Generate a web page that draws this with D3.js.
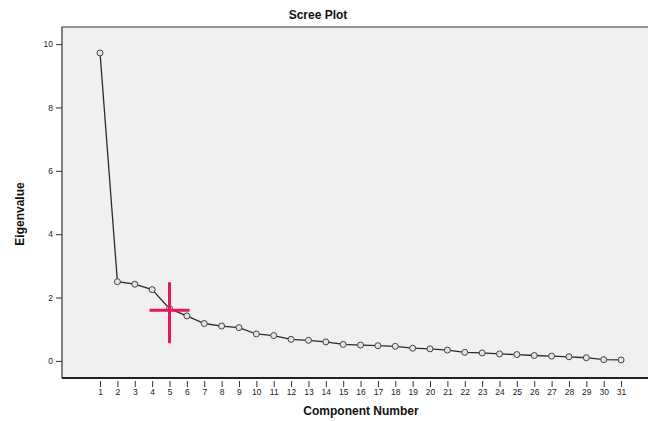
<!DOCTYPE html>
<html lang="en">
<head>
    <meta charset="utf-8">
    <title>Scree Plot</title>
    <style>
        body { margin: 0; background: #fff; }
        svg { display: block; font-family: "Liberation Sans", Arial, sans-serif; }
        .tick text { font-size: 8.5px; fill: #222; }
        .tick line { stroke: #333; }
        .line { fill: none; stroke: #2a2a2a; stroke-width: 1.3px; }
        .dot { fill: #e4e4e4; stroke: #444; stroke-width: 1px; }
        .title { font-size: 12px; font-weight: bold; fill: #111; }
    </style>
</head>
<body>
<script src="https://d3js.org/d3.v7.min.js"></script>
<script>

    // components and their eigenvalues
    var components = d3.range(1, 32);
    var eigenvalues = [9.72, 2.5, 2.42, 2.25, 1.65, 1.42, 1.18, 1.1, 1.05, 0.85,
        0.8, 0.68, 0.65, 0.6, 0.52, 0.5, 0.48, 0.46, 0.4, 0.38,
        0.34, 0.27, 0.25, 0.22, 0.2, 0.17, 0.15, 0.13, 0.1, 0.04, 0.03];
    var yTicks = [0, 2, 4, 6, 8, 10];

    // the elbow marker
    var elbow = {component: 5, value: 1.6};

    var width = 648, height = 421;
    var margin = {top: 27, right: 0, bottom: 43, left: 62};

    var svg = d3.select("body").append("svg")
        .attr("width", width)
        .attr("height", height);

    var x = d3.scaleLinear()
        .domain([-1.19, 32.55])
        .range([margin.left, width - margin.right]);

    var y = d3.scaleLinear()
        .domain([-0.54, 10.54])
        .range([height - margin.bottom, margin.top]);

    // plot background
    svg.append("rect")
        .attr("x", margin.left)
        .attr("y", margin.top)
        .attr("width", width - margin.left - margin.right + 2)
        .attr("height", height - margin.top - margin.bottom)
        .attr("fill", "#f0f0f0");

    // frame
    svg.append("path")
        .attr("d", "M" + (width + 2) + "," + margin.top + "H" + margin.left +
            "V" + (height - margin.bottom) + "H" + (width + 2))
        .attr("fill", "none")
        .attr("stroke", "#333")
        .attr("stroke-width", 1.2);

    svg.append("line")
        .attr("x1", margin.left).attr("x2", width)
        .attr("y1", height - margin.bottom).attr("y2", height - margin.bottom)
        .attr("stroke", "#222").attr("stroke-width", 2);

    // axes
    svg.append("g")
        .attr("transform", "translate(" + margin.left + ",0)")
        .call(d3.axisLeft(y).tickValues(yTicks).tickSize(6).tickPadding(3))
        .call(function(g) { g.select(".domain").remove(); });

    svg.append("g")
        .attr("transform", "translate(0," + (height - margin.bottom + 3) + ")")
        .call(d3.axisBottom(x).tickValues(components).tickSize(6).tickPadding(2))
        .call(function(g) { g.select(".domain").remove(); });

    // line + points
    var line = d3.line()
        .x(function(d, i) { return x(components[i]); })
        .y(function(d) { return y(d); });

    svg.append("path")
        .datum(eigenvalues)
        .attr("class", "line")
        .attr("d", line);

    svg.selectAll("circle.dot")
        .data(eigenvalues)
        .enter().append("circle")
        .attr("class", "dot")
        .attr("cx", function(d, i) { return x(components[i]); })
        .attr("cy", function(d) { return y(d); })
        .attr("r", 3);

    // red cross on the elbow
    var cx = x(elbow.component), cy = y(elbow.value);
    svg.append("line")
        .attr("x1", cx).attr("x2", cx)
        .attr("y1", cy - 28).attr("y2", cy + 33)
        .attr("stroke", "#e5185a").attr("stroke-width", 3);
    svg.append("line")
        .attr("x1", cx - 20).attr("x2", cx + 20)
        .attr("y1", cy).attr("y2", cy)
        .attr("stroke", "#e5185a").attr("stroke-width", 3);

    // titles
    svg.append("text")
        .attr("class", "title")
        .attr("x", 318).attr("y", 19)
        .attr("text-anchor", "middle")
        .text("Scree Plot");

    svg.append("text")
        .attr("class", "title")
        .attr("x", 361).attr("y", 415)
        .attr("text-anchor", "middle")
        .text("Component Number");

    svg.append("text")
        .attr("class", "title")
        .attr("transform", "translate(24,214) rotate(-90)")
        .attr("text-anchor", "middle")
        .text("Eigenvalue");

</script>
</body>
</html>
